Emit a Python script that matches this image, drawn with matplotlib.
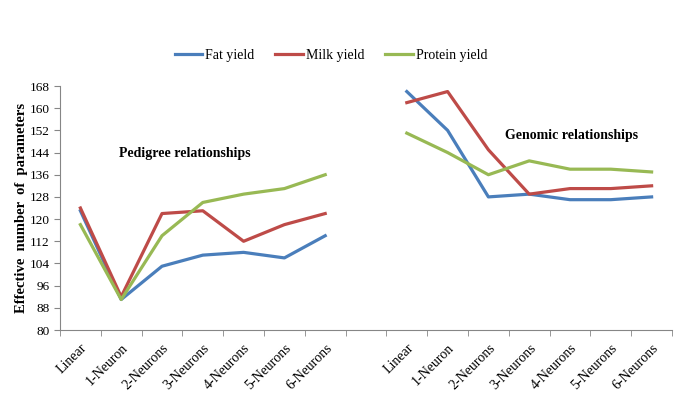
import matplotlib
matplotlib.use("Agg")
import matplotlib.pyplot as plt
import numpy as np

# Categories (pedigree block, gap, genomic block)
models = ["Linear", "1-Neuron", "2-Neurons", "3-Neurons", "4-Neurons", "5-Neurons", "6-Neurons"]

# Pedigree relationships
fat_pedigree = [123, 91, 103, 107, 108, 106, 114]
milk_pedigree = [124, 92, 122, 123, 112, 118, 122]
protein_pedigree = [118, 91, 114, 126, 129, 131, 136]

# Genomic relationships
fat_genomic = [166, 152, 128, 129, 127, 127, 128]
milk_genomic = [162, 166, 145, 129, 131, 131, 132]
protein_genomic = [151, 144, 136, 141, 138, 138, 137]

plt.rcParams['font.family'] = ['Liberation Serif', 'DejaVu Serif']

fig = plt.figure(figsize=(6.85, 4.01), dpi=100)
ax = fig.add_axes([60 / 685, 1 - 330 / 401, 612 / 685, 244 / 401])

n = len(models)
x_ped = np.arange(n)
x_gen = np.arange(n) + n + 1

series = [
    ("Fat yield", fat_pedigree, fat_genomic, "#4A7EBB"),
    ("Milk yield", milk_pedigree, milk_genomic, "#BE4B48"),
    ("Protein yield", protein_pedigree, protein_genomic, "#98B954"),
]
for name, ped, gen, color in series:
    ax.plot(x_ped, ped, color=color, lw=2.3, label=name)
    ax.plot(x_gen, gen, color=color, lw=2.3)

ax.set_xlim(-0.5, 2 * n + 0.5)
ax.set_ylim(80, 168)
ax.set_yticks(np.arange(80, 169, 8))

ax.set_xticks(list(x_ped) + list(x_gen))
ax.set_xticklabels(models + models, rotation=45, ha="right", rotation_mode="anchor", fontsize=10)
ax.set_xticks(np.arange(-0.5, 2 * n + 1, 1), minor=True)
ax.tick_params(axis="x", which="major", length=0, pad=8)
ax.tick_params(axis="x", which="minor", length=4, color="#868686")
ax.tick_params(axis="y", length=4, color="#868686", labelsize=9.5)

for side in ["top", "right"]:
    ax.spines[side].set_visible(False)
for side in ["left", "bottom"]:
    ax.spines[side].set_color("#868686")

ax.set_ylabel("Effective  number  of  parameters", fontsize=10.5, fontweight="bold")
ax.yaxis.set_label_coords(-0.053, 0.5)

ax.text(2.56, 143.5, "Pedigree relationships", fontsize=10, fontweight="bold", ha="center", va="center")
ax.text(12.05, 150.3, "Genomic relationships", fontsize=10, fontweight="bold", ha="center", va="center")

fig.legend(loc="center", bbox_to_anchor=(331 / 685, 1 - 55 / 401), ncol=3, frameon=False,
           fontsize=10, handlelength=2.0, columnspacing=1.5, handletextpad=0.2)

fig.savefig("out.png", dpi=100)
